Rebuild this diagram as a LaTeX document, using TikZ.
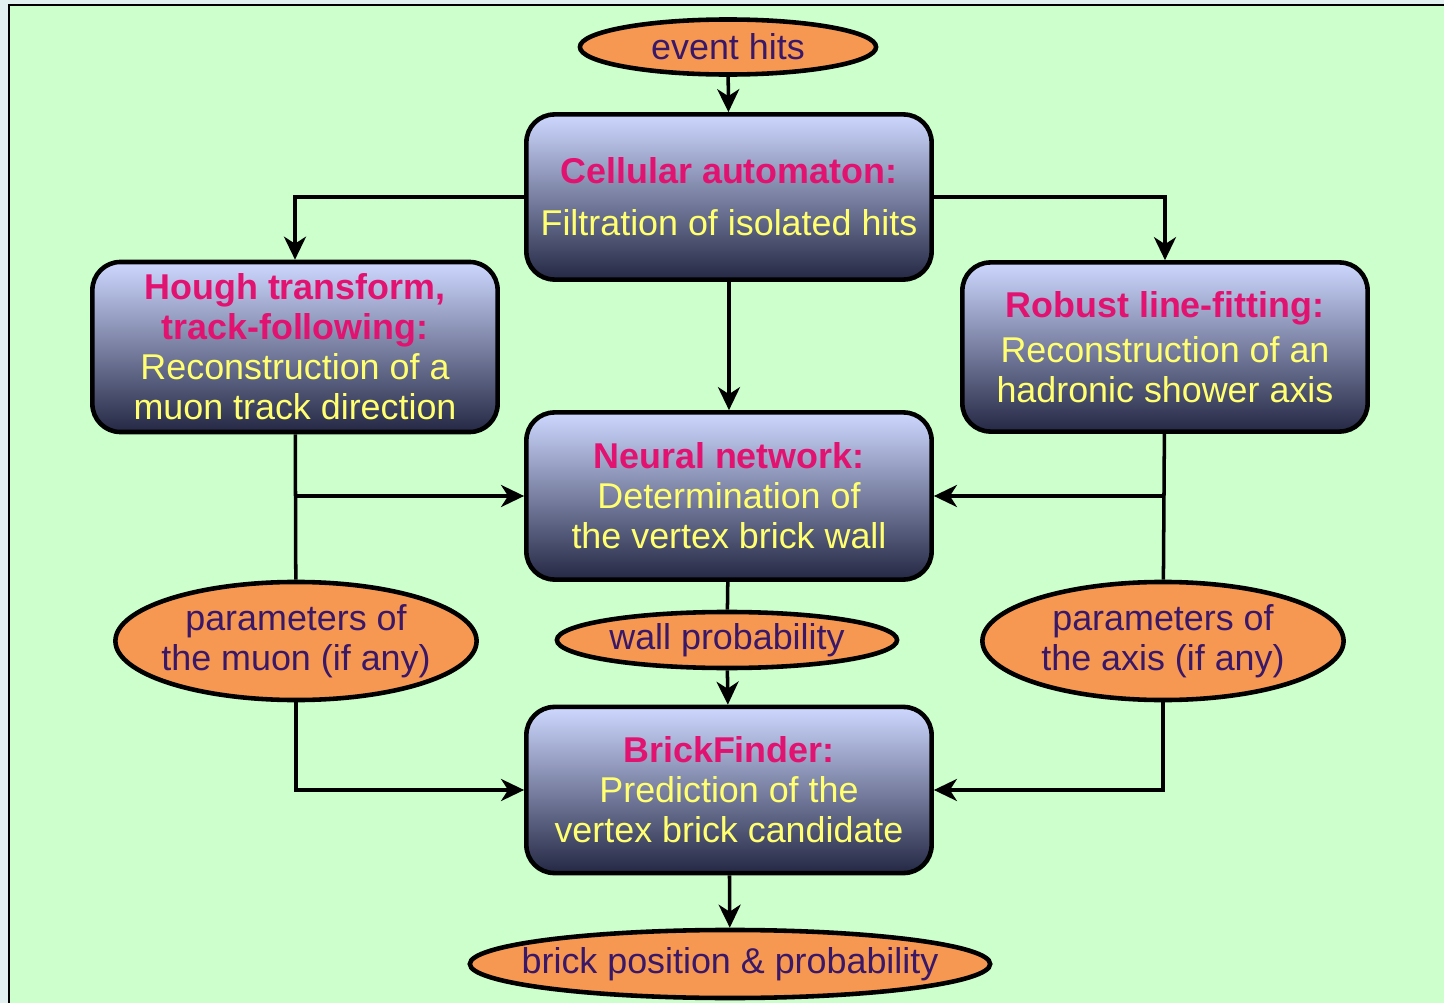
\documentclass[tikz,border=0pt]{standalone}
\usepackage{fontspec}
\setmainfont{Liberation Sans}
\usetikzlibrary{shapes.geometric,arrows.meta}

\definecolor{pagegreen}{RGB}{204,255,204}
\definecolor{outerstrip}{RGB}{226,240,240}
\definecolor{ovalfill}{RGB}{247,152,82}
\definecolor{ovaltext}{RGB}{58,24,104}
\definecolor{boxtop}{RGB}{206,216,255}
\definecolor{boxbottom}{RGB}{36,40,68}
\definecolor{titlepink}{RGB}{226,18,112}
\definecolor{bodyyellow}{RGB}{255,255,112}

\begin{document}
\begin{tikzpicture}[
                x=0.01cm,y=0.01cm,
                line width=1pt,
                every node/.style={font=\fontsize{10.2}{11.4}\selectfont},
                stagebox/.style={draw,line width=1.3pt,rounded corners=0.28cm,
                    top color=boxtop,bottom color=boxbottom,
                    minimum width=4.05cm,minimum height=1.67cm,
                    align=center,text=bodyyellow},
                databox/.style={draw,ellipse,line width=1.3pt,fill=ovalfill,
                    text=ovaltext,align=center,inner xsep=-0.3cm,inner ysep=0pt},
                flow/.style={-{Stealth[length=0.23cm,width=0.22cm,inset=0.07cm]}},
                ] %

                    \useasboundingbox (0,0) rectangle (1444,-1003);
                    \clip (0,0) rectangle (1444,-1003);
                    \fill[outerstrip] (0,0) rectangle (1444,-1003);
                    \filldraw[fill=pagegreen,draw=black,line width=0.8pt] (9,-5) rectangle (1470,-1030);

                    % top
                    \node[databox,minimum width=2.96cm,minimum height=0.55cm] (EventHits) at (728,-47) {event hits};
                    \node[stagebox,minimum height=1.65cm] (Cellular) at (729,-197) {\textbf{\color{titlepink}Cellular automaton:}\\[0.12cm]
                    Filtration of isolated hits};

                    % sides
                    \node[stagebox,minimum height=1.69cm] (Hough) at (295,-347) {\textbf{\color{titlepink}Hough transform,}\\
                    \textbf{\color{titlepink}track-following:}\\
                    Reconstruction of a\\
                    muon track direction};
                    \node[stagebox,minimum height=1.69cm] (Robust) at (1165,-347) {\textbf{\color{titlepink}Robust line-fitting:}\\[0.05cm]
                    Reconstruction of an\\
                    hadronic shower axis};

                    % middle
                    \node[stagebox] (Neural) at (729,-496) {\textbf{\color{titlepink}Neural network:}\\
                    Determination of\\
                    the vertex brick wall};
                    \node[databox,minimum width=3.4cm,minimum height=0.56cm] (WallProb) at (727,-640) {wall probability};
                    \node[databox,minimum width=3.61cm,minimum height=1.18cm] (MuonPar) at (296,-641) {parameters of\\
                    the muon (if any)};
                    \node[databox,minimum width=3.61cm,minimum height=1.18cm] (AxisPar) at (1163,-641) {parameters of\\
                    the axis (if any)};

                    % bottom
                    \node[stagebox,minimum height=1.66cm] (BrickFinder) at (729,-790) {\textbf{\color{titlepink}BrickFinder:}\\
                    Prediction of the\\
                    vertex brick candidate};
                    \node[databox,minimum width=5.2cm,minimum height=0.68cm,inner xsep=-0.5cm] (BrickPos) at (730,-964) {brick position \& probability};


                    \draw[flow] (EventHits) -- (Cellular);
                    \draw[flow] (Cellular.west) -| (Hough.north);
                    \draw[flow] (Cellular.east) -| (Robust.north);
                    \draw[flow] (Cellular) -- (Neural);

                    \draw (Hough) -- (MuonPar);
                    \draw (Robust) -- (AxisPar);
                    \draw[flow] (Neural.west -| Hough.south) -- (Neural.west);
                    \draw[flow] (Neural.east -| Robust.south) -- (Neural.east);

                    \draw (Neural) -- (WallProb);
                    \draw[flow] (WallProb) -- (BrickFinder);
                    \draw[flow] (MuonPar.south) |- (BrickFinder.west);
                    \draw[flow] (AxisPar.south) |- (BrickFinder.east);
                    \draw[flow] (BrickFinder) -- (BrickPos);

                    \end{tikzpicture}
\end{document}
